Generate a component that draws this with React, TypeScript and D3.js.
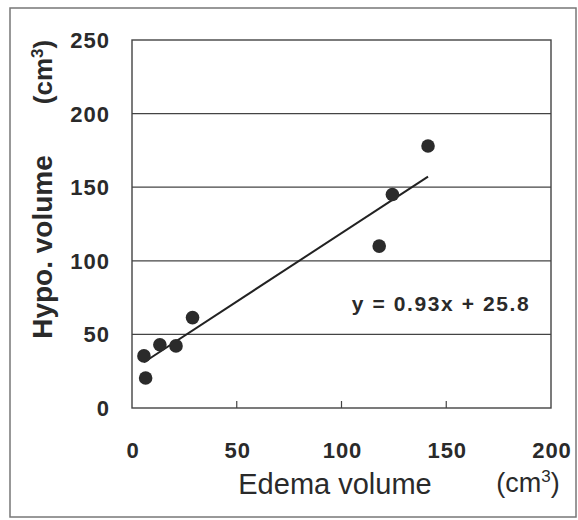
import React from "react";
import * as d3 from "d3";

// Edema volume (cm³) vs hypo volume (cm³)
const edemaVolume = [5.7, 6.5, 13.3, 21, 28.9, 118, 124.3, 141.3];
const hypoVolume = [35.4, 20.4, 43, 42.2, 61.4, 110, 145, 178];
const xTicks = [0, 50, 100, 150, 200];
const yTicks = [0, 50, 100, 150, 200, 250];
const slope = 0.93;
const intercept = 25.8;

const W = 578;
const H = 520;
const plot = { left: 132, right: 551, top: 40, bottom: 408 };

export default function App() {
  const x = d3.scaleLinear().domain([0, 200]).range([plot.left, plot.right]);
  const y = d3.scaleLinear().domain([0, 250]).range([plot.bottom, plot.top]);
  const [xMin, xMax] = d3.extent(edemaVolume) as [number, number];
  const fit = d3
    .line<number>()
    .x((d) => x(d))
    .y((d) => y(slope * d + intercept));

  const tickFont = {
    fontFamily: "'Liberation Sans', Arial, sans-serif",
    fontWeight: 700,
    fontSize: 22,
    letterSpacing: 1,
    fill: "#2a2a2a",
  } as const;
  const titleFont = {
    fontFamily: "'Liberation Sans', Arial, sans-serif",
    fontSize: 29,
    fill: "#2a2a2a",
  } as const;

  return (
    <svg
      width={W}
      height={H}
      style={{ position: "absolute", left: 0, top: 0, background: "#fff" }}
    >
      <rect x={10} y={8} width={566} height={509} fill="#fff" stroke="#777" strokeWidth={1.5} />

      {/* horizontal gridlines */}
      {yTicks.slice(1, -1).map((t) => (
        <line key={t} x1={plot.left} x2={plot.right} y1={y(t)} y2={y(t)} stroke="#444" strokeWidth={1.2} />
      ))}
      {/* x ticks, drawn inward */}
      {xTicks.slice(1, -1).map((t) => (
        <line key={t} x1={x(t)} x2={x(t)} y1={plot.bottom} y2={plot.bottom - 7} stroke="#444" strokeWidth={1.2} />
      ))}
      <rect
        x={plot.left}
        y={plot.top}
        width={plot.right - plot.left}
        height={plot.bottom - plot.top}
        fill="none"
        stroke="#444"
        strokeWidth={1.4}
      />

      {/* y tick labels */}
      {yTicks.map((t) => (
        <text key={t} x={110} y={y(t) + 8} textAnchor="end" {...tickFont}>
          {t}
        </text>
      ))}
      {/* x tick labels */}
      {xTicks.map((t) => (
        <text key={t} x={x(t) + 1} y={458} textAnchor="middle" {...tickFont}>
          {t}
        </text>
      ))}

      {/* regression line */}
      <path d={fit([xMin, xMax]) ?? ""} fill="none" stroke="#222" strokeWidth={2} />

      {/* observations */}
      {edemaVolume.map((v, i) => (
        <circle key={i} cx={x(v)} cy={y(hypoVolume[i])} r={6.8} fill="#2b2b2b" />
      ))}

      <text x={441} y={311} textAnchor="middle" {...tickFont} fontSize={21} letterSpacing={1.6}>
        y = 0.93x + 25.8
      </text>

      {/* axis titles */}
      <text x={335} y={494} textAnchor="middle" {...titleFont}>
        Edema volume
      </text>
      <text x={528} y={492} textAnchor="middle" {...titleFont} fontSize={27}>
        (cm<tspan dy={-10} fontSize={17}>3</tspan><tspan dy={10}>)</tspan>
      </text>
      <g transform="translate(52,247) rotate(-90)">
        <text x={0} y={0} textAnchor="middle" {...titleFont} fontWeight={700} fontSize={28}>
          Hypo. volume
        </text>
      </g>
      <g transform="translate(52,72) rotate(-90)">
        <text x={0} y={0} textAnchor="middle" {...titleFont} fontWeight={700} fontSize={26}>
          (cm<tspan dy={-9} fontSize={17}>3</tspan><tspan dy={9}>)</tspan>
        </text>
      </g>
    </svg>
  );
}
